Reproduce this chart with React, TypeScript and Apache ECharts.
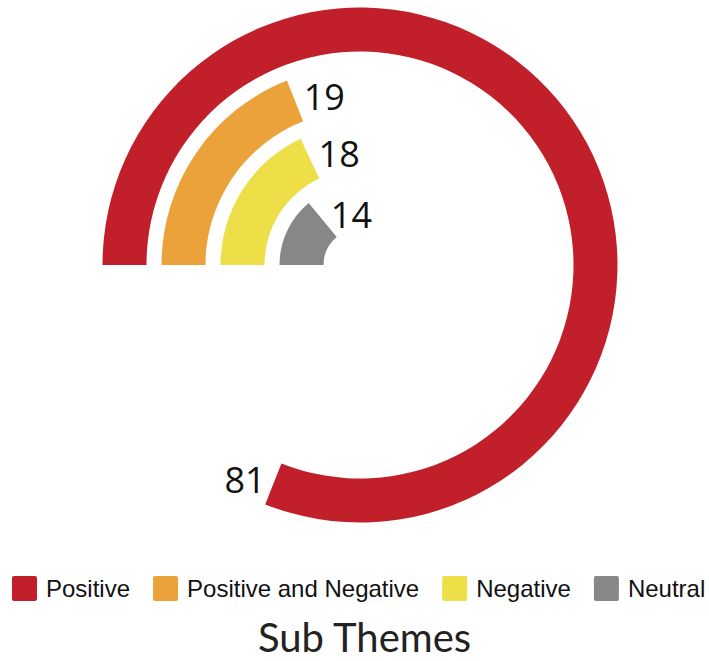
import React, { useEffect, useRef } from "react";
import * as echarts from "echarts";

const categories = ["Neutral", "Negative", "Positive and Negative", "Positive"];
const seriesNames = ["Positive", "Positive and Negative", "Negative", "Neutral"];
const seriesValues = [81, 19, 18, 14];
const colors = ["#C1202B", "#EBA23B", "#EEDE47", "#878787"];
const titleText = "Sub Themes";

export default function App() {
  const ref = useRef<HTMLDivElement>(null);
  useEffect(() => {
    document.body.style.margin = "0";
    const chart = echarts.init(ref.current!, null, { renderer: "svg" });
    const series = seriesNames.map((name, i) => {
      const wraps = seriesValues[i] > 50;
      return {
        type: "bar",
        name,
        coordinateSystem: "polar",
        stack: "all",
        barWidth: 44,
        itemStyle: { color: colors[i] },
        label: {
          show: true,
          position: "end",
          rotate: 0,
          fontSize: 36,
          fontFamily: "Open Sans",
          color: "#111",
          distance: 4,
          align: wraps ? "right" : "left",
          offset: wraps ? [-4, -3] : [5, -3],
        },
        data: categories.map((c) => (c === name ? seriesValues[i] : null)),
      };
    });
    chart.setOption({
      animation: false,
      title: {
        text: titleText,
        left: 253,
        top: 612,
        textStyle: { fontSize: 40, fontWeight: "normal", fontFamily: "Lato", color: "#222" },
      },
      legend: {
        data: seriesNames,
        top: 571,
        left: 7,
        width: 702,
        padding: 5,
        icon: "path://M2,0H23A2,2 0 0 1 25,2V23A2,2 0 0 1 23,25H2A2,2 0 0 1 0,23V2A2,2 0 0 1 2,0Z",
        itemWidth: 25,
        itemHeight: 25,
        itemGap: 23,
        textStyle: { fontSize: 24, fontFamily: "Liberation Sans", color: "#111", padding: [0, 0, 0, 4] },
      },
      polar: { center: [360, 265], radius: [29, 265] },
      angleAxis: {
        type: "value",
        min: 0,
        max: 100,
        startAngle: 180,
        clockwise: true,
        show: false,
      },
      radiusAxis: {
        type: "category",
        data: categories,
        show: false,
      },
      series,
    });
    return () => chart.dispose();
  }, []);
  return <div ref={ref} style={{ width: 709, height: 661 }} />;
}
